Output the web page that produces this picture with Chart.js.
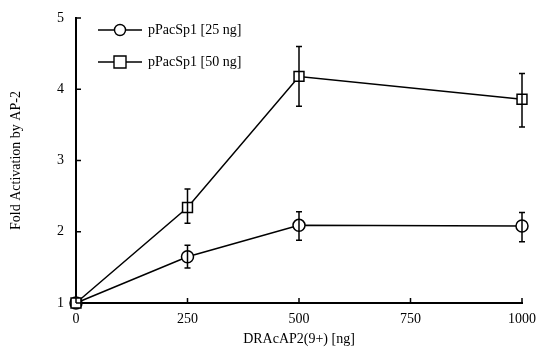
<!DOCTYPE html>
<html><head><meta charset="utf-8">
<script src="https://cdn.jsdelivr.net/npm/chart.js@4"></script>
<style>html,body{margin:0;padding:0;background:#fff}#wrap{width:538px;height:354px}</style>
</head><body><div id="wrap"><canvas id="c" width="538" height="354"></canvas></div>
<script>
const doses = [0, 250, 500, 1000];
const series25 = [1.0, 1.65, 2.09, 2.08];
const err25Lo = [1.0, 1.49, 1.88, 1.86];
const err25Hi = [1.0, 1.81, 2.28, 2.27];
const series50 = [1.0, 2.34, 4.18, 3.86];
const err50Lo = [1.0, 2.12, 3.76, 3.47];
const err50Hi = [1.0, 2.60, 4.60, 4.22];
const xTicks = [0, 250, 500, 750, 1000];
const yTicks = [1, 2, 3, 4, 5];
const labels = ['pPacSp1 [25 ng]', 'pPacSp1 [50 ng]'];
const xTitle = 'DRAcAP2(9+) [ng]';
const yTitle = 'Fold Activation by AP-2';

const FONT = 'Liberation Serif';
const errs = [[err25Lo, err25Hi], [err50Lo, err50Hi]];

const errorBars = {
  id: 'errorBars',
  afterDatasetsDraw(chart) {
    const ctx = chart.ctx, xs = chart.scales.x, ys = chart.scales.y;
    ctx.save();
    ctx.strokeStyle = '#000'; ctx.lineWidth = 1.5;
    errs.forEach(([lo, hi]) => {
      doses.forEach((d, i) => {
        if (hi[i] === lo[i]) return;
        const x = xs.getPixelForValue(d);
        const y1 = ys.getPixelForValue(lo[i]), y2 = ys.getPixelForValue(hi[i]);
        ctx.beginPath();
        ctx.moveTo(x, y1); ctx.lineTo(x, y2);
        ctx.moveTo(x - 3, y1); ctx.lineTo(x + 3, y1);
        ctx.moveTo(x - 3, y2); ctx.lineTo(x + 3, y2);
        ctx.stroke();
      });
    });
    ctx.restore();
  }
};

const innerTicks = {
  id: 'innerTicks',
  afterDraw(chart) {
    const ctx = chart.ctx, xs = chart.scales.x, ys = chart.scales.y, a = chart.chartArea;
    ctx.save();
    ctx.strokeStyle = '#000'; ctx.lineWidth = 1.5;
    ctx.beginPath();
    yTicks.forEach(v => { const y = ys.getPixelForValue(v); ctx.moveTo(a.left, y); ctx.lineTo(a.left + 5, y); });
    xTicks.forEach(v => { const x = xs.getPixelForValue(v); ctx.moveTo(x, a.bottom); ctx.lineTo(x, a.bottom - 5); });
    ctx.stroke();
    // legend
    const items = [{y: 30, style: 'circle'}, {y: 62, style: 'rect'}];
    ctx.font = '14px "' + FONT + '"';
    ctx.textBaseline = 'middle'; ctx.textAlign = 'left';
    items.forEach((it, i) => {
      ctx.lineWidth = 1.4;
      ctx.beginPath(); ctx.moveTo(98, it.y); ctx.lineTo(142, it.y); ctx.stroke();
      ctx.fillStyle = '#fff';
      ctx.beginPath();
      if (it.style === 'circle') ctx.arc(120, it.y, 5.5, 0, Math.PI * 2);
      else ctx.rect(114, it.y - 6, 12, 12);
      ctx.fill(); ctx.stroke();
      ctx.fillStyle = '#000';
      ctx.fillText(labels[i], 148, it.y);
    });
    ctx.restore();
  }
};

new Chart(document.getElementById('c'), {
  type: 'line',
  data: {
    datasets: [
      { label: labels[0], order: 1, data: doses.map((d, i) => ({x: d, y: series25[i]})),
        borderColor: '#000', borderWidth: 1.5, pointStyle: 'circle', pointRadius: 6,
        pointBackgroundColor: '#fff', pointBorderColor: '#000', pointBorderWidth: 1.5, tension: 0, clip: false },
      { label: labels[1], order: 0, data: doses.map((d, i) => ({x: d, y: series50[i]})),
        borderColor: '#000', borderWidth: 1.5, pointStyle: 'rect', pointRadius: 7,
        pointBackgroundColor: '#fff', pointBorderColor: '#000', pointBorderWidth: 1.5, tension: 0, clip: false }
    ]
  },
  options: {
    responsive: false, animation: false, devicePixelRatio: 1,
    layout: { padding: { top: 18, right: 16, left: 0, bottom: 0 } },
    plugins: { legend: { display: false }, tooltip: { enabled: false } },
    scales: {
      x: {
        type: 'linear', min: 0, max: 1000,
        afterBuildTicks: s => { s.ticks = xTicks.map(v => ({value: v})); },
        afterFit: s => { s.height = 51; s.paddingLeft = 0; s.paddingRight = 0; },
        grid: { display: false, drawTicks: false },
        border: { display: true, color: '#000', width: 2 },
        ticks: { color: '#000', font: { family: FONT, size: 14 }, padding: 8, maxRotation: 0, callback: v => String(v) },
        title: { display: true, text: xTitle, color: '#000', font: { family: FONT, size: 14 }, padding: { top: 0, bottom: 6 } }
      },
      y: {
        type: 'linear', min: 1, max: 5,
        afterBuildTicks: s => { s.ticks = yTicks.map(v => ({value: v})); },
        afterFit: s => { s.width = 76; s.paddingTop = 0; s.paddingBottom = 0; },
        grid: { display: false, drawTicks: false },
        border: { display: true, color: '#000', width: 2 },
        ticks: { color: '#000', font: { family: FONT, size: 14 }, padding: 12, callback: v => String(v) },
        title: { display: true, text: yTitle, color: '#000', font: { family: FONT, size: 14 }, padding: { top: 8, bottom: 0 } }
      }
    }
  },
  plugins: [errorBars, innerTicks]
});
</script></body></html>
